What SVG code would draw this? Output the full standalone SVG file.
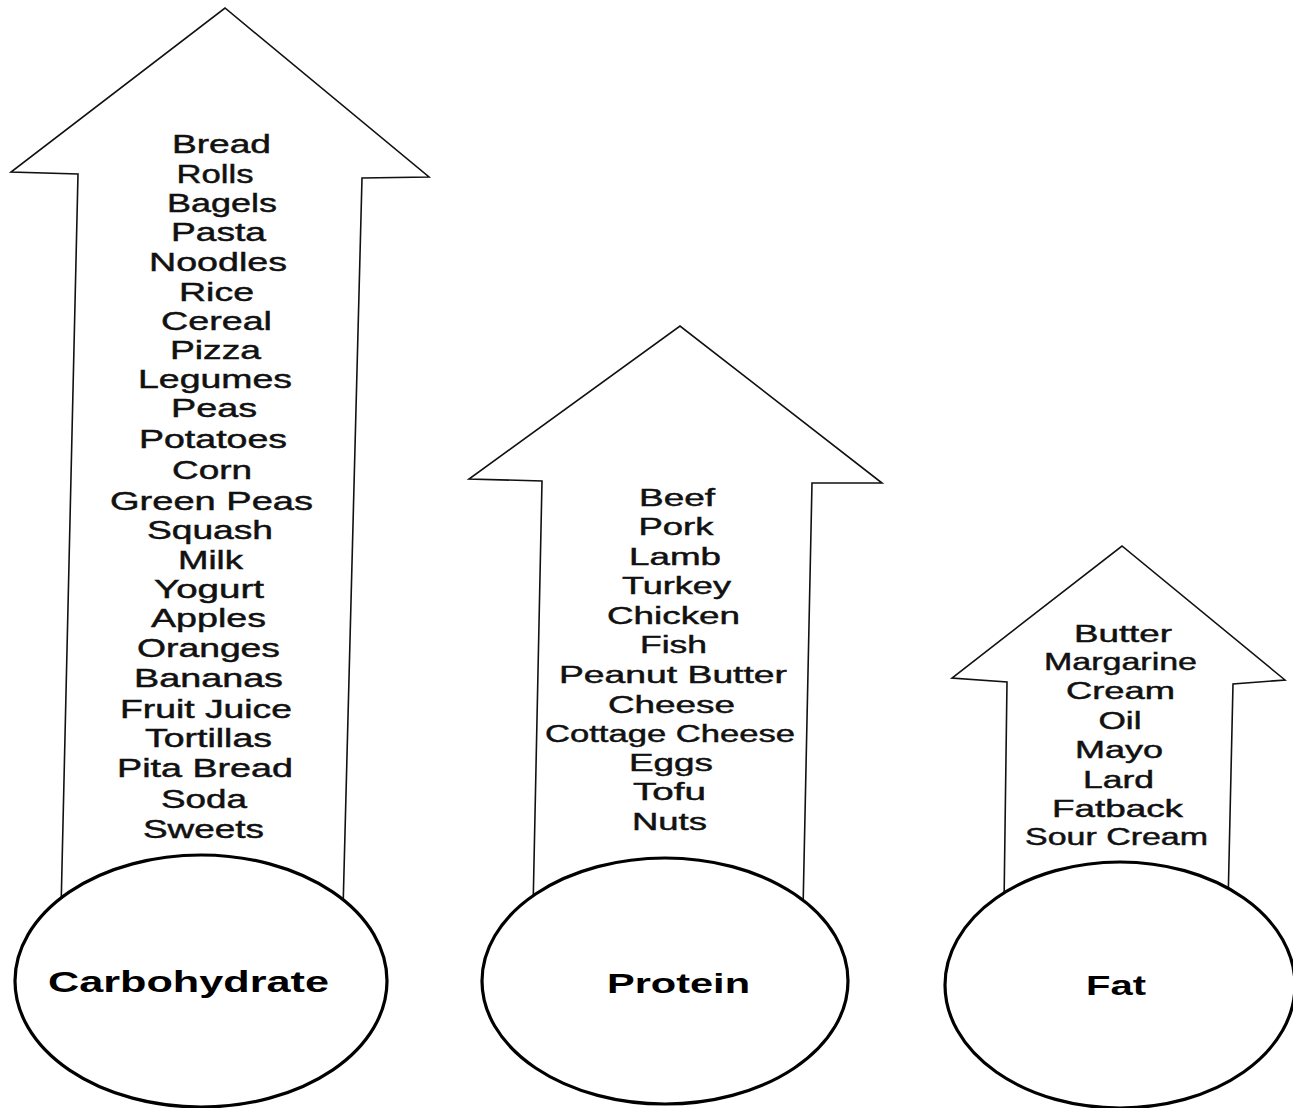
<svg xmlns="http://www.w3.org/2000/svg" width="1293" height="1108" viewBox="0 0 1293 1108">
<style>
.arrow{fill:#fff;stroke:#111;stroke-width:1.6;stroke-linejoin:miter}
.base{fill:#fff;stroke:#000;stroke-width:3.2}
.item{font-family:"Liberation Sans",Arial,sans-serif;fill:#111;stroke:#111;stroke-width:0.45;text-anchor:middle}
.c{font-size:25px}
.p{font-size:23.5px}
.f{font-size:23px}
.lab{font-family:"Liberation Sans",Arial,sans-serif;font-weight:bold;fill:#000;text-anchor:middle}
</style>
<rect width="1293" height="1108" fill="#fff"/>
<g id="carbohydrate">
<path class="arrow" d="M61,910 L78,174 L11,172 L225,8 L429,177 L362,178 L343,910"/>
<ellipse class="base" cx="201" cy="981" rx="186" ry="126"/>
<text class="lab" x="188.5" y="992" font-size="29" textLength="281" lengthAdjust="spacingAndGlyphs">Carbohydrate</text>
<g class="item c">
<text x="221.5" y="153" textLength="99" lengthAdjust="spacingAndGlyphs">Bread</text>
<text x="215" y="183" textLength="77" lengthAdjust="spacingAndGlyphs">Rolls</text>
<text x="222" y="212" textLength="110" lengthAdjust="spacingAndGlyphs">Bagels</text>
<text x="218.5" y="241" textLength="95" lengthAdjust="spacingAndGlyphs">Pasta</text>
<text x="218" y="271" textLength="138" lengthAdjust="spacingAndGlyphs">Noodles</text>
<text x="216.5" y="301" textLength="75" lengthAdjust="spacingAndGlyphs">Rice</text>
<text x="216.5" y="330" textLength="111" lengthAdjust="spacingAndGlyphs">Cereal</text>
<text x="215.5" y="359" textLength="91" lengthAdjust="spacingAndGlyphs">Pizza</text>
<text x="215" y="388" textLength="154" lengthAdjust="spacingAndGlyphs">Legumes</text>
<text x="214" y="417" textLength="86" lengthAdjust="spacingAndGlyphs">Peas</text>
<text x="213" y="448" textLength="148" lengthAdjust="spacingAndGlyphs">Potatoes</text>
<text x="212" y="479" textLength="80" lengthAdjust="spacingAndGlyphs">Corn</text>
<text x="211.5" y="510" textLength="203" lengthAdjust="spacingAndGlyphs">Green Peas</text>
<text x="210" y="539" textLength="126" lengthAdjust="spacingAndGlyphs">Squash</text>
<text x="210.5" y="569" textLength="65" lengthAdjust="spacingAndGlyphs">Milk</text>
<text x="209" y="598" textLength="110" lengthAdjust="spacingAndGlyphs">Yogurt</text>
<text x="208.5" y="627" textLength="115" lengthAdjust="spacingAndGlyphs">Apples</text>
<text x="208.5" y="657" textLength="143" lengthAdjust="spacingAndGlyphs">Oranges</text>
<text x="208.5" y="687" textLength="149" lengthAdjust="spacingAndGlyphs">Bananas</text>
<text x="206" y="718" textLength="172" lengthAdjust="spacingAndGlyphs">Fruit Juice</text>
<text x="208.5" y="747" textLength="127" lengthAdjust="spacingAndGlyphs">Tortillas</text>
<text x="205" y="777" textLength="176" lengthAdjust="spacingAndGlyphs">Pita Bread</text>
<text x="204" y="808" textLength="86" lengthAdjust="spacingAndGlyphs">Soda</text>
<text x="203.5" y="838" textLength="121" lengthAdjust="spacingAndGlyphs">Sweets</text>
</g>
</g>
<g id="protein">
<path class="arrow" d="M533,910 L542,481 L469,479 L680,326 L882,483 L812,483 L803,910"/>
<ellipse class="base" cx="665" cy="981" rx="183" ry="123"/>
<text class="lab" x="678.5" y="993" font-size="28" textLength="143" lengthAdjust="spacingAndGlyphs">Protein</text>
<g class="item p">
<text x="677" y="505.5" textLength="76" lengthAdjust="spacingAndGlyphs">Beef</text>
<text x="676" y="535" textLength="75" lengthAdjust="spacingAndGlyphs">Pork</text>
<text x="675" y="565" textLength="92" lengthAdjust="spacingAndGlyphs">Lamb</text>
<text x="676.5" y="594" textLength="109" lengthAdjust="spacingAndGlyphs">Turkey</text>
<text x="673.5" y="624" textLength="133" lengthAdjust="spacingAndGlyphs">Chicken</text>
<text x="673.5" y="653" textLength="67" lengthAdjust="spacingAndGlyphs">Fish</text>
<text x="673" y="683" textLength="228" lengthAdjust="spacingAndGlyphs">Peanut Butter</text>
<text x="671.5" y="713" textLength="127" lengthAdjust="spacingAndGlyphs">Cheese</text>
<text x="670" y="742" textLength="250" lengthAdjust="spacingAndGlyphs">Cottage Cheese</text>
<text x="671" y="771" textLength="84" lengthAdjust="spacingAndGlyphs">Eggs</text>
<text x="669.5" y="800" textLength="73" lengthAdjust="spacingAndGlyphs">Tofu</text>
<text x="669.5" y="830" textLength="75" lengthAdjust="spacingAndGlyphs">Nuts</text>
</g>
</g>
<g id="fat">
<path class="arrow" d="M1004,905 L1007,682 L952,678 L1122,546 L1285,680 L1233,684 L1228,905"/>
<ellipse class="base" cx="1120" cy="985" rx="175" ry="123"/>
<text class="lab" x="1116" y="995" font-size="28" textLength="60" lengthAdjust="spacingAndGlyphs">Fat</text>
<g class="item f">
<text x="1123" y="642" textLength="98" lengthAdjust="spacingAndGlyphs">Butter</text>
<text x="1120.5" y="670" textLength="153" lengthAdjust="spacingAndGlyphs">Margarine</text>
<text x="1120.5" y="699" textLength="109" lengthAdjust="spacingAndGlyphs">Cream</text>
<text x="1120" y="729" textLength="43" lengthAdjust="spacingAndGlyphs">Oil</text>
<text x="1119" y="758" textLength="88" lengthAdjust="spacingAndGlyphs">Mayo</text>
<text x="1118.5" y="788" textLength="71" lengthAdjust="spacingAndGlyphs">Lard</text>
<text x="1117.5" y="817" textLength="131" lengthAdjust="spacingAndGlyphs">Fatback</text>
<text x="1116.5" y="845" textLength="183" lengthAdjust="spacingAndGlyphs">Sour Cream</text>
</g>
</g>
</svg>
